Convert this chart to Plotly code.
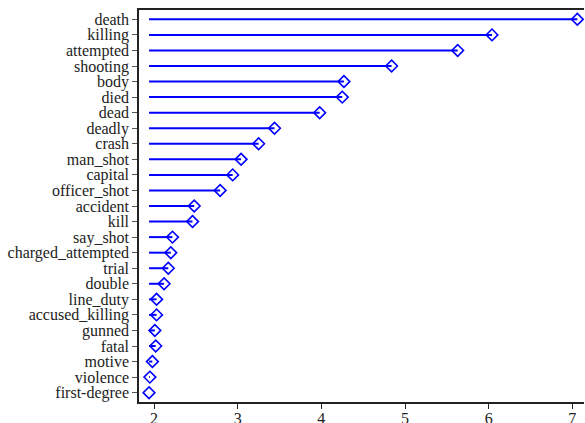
import plotly.graph_objects as go

# terms and their scores (top to bottom)
terms = ["death", "killing", "attempted", "shooting", "body", "died", "dead",
         "deadly", "crash", "man_shot", "capital", "officer_shot", "accident",
         "kill", "say_shot", "charged_attempted", "trial", "double", "line_duty",
         "accused_killing", "gunned", "fatal", "motive", "violence", "first-degree"]
scores = [7.06, 6.04, 5.63, 4.84, 4.27, 4.25, 3.98,
          3.44, 3.25, 3.04, 2.94, 2.79, 2.48,
          2.46, 2.22, 2.20, 2.17, 2.12, 2.03,
          2.03, 2.01, 2.02, 1.98, 1.95, 1.94]
x_ticks = [2, 3, 4, 5, 6, 7]

base = min(scores)
BLUE = "#0000ff"

# stems: one segment per term, from the smallest score to the term's score
sx, sy = [], []
for t, s in zip(terms, scores):
    sx += [base, s, None]
    sy += [t, t, None]

fig = go.Figure()
fig.add_trace(go.Scatter(x=sx, y=sy, mode="lines",
                         line=dict(color=BLUE, width=2), hoverinfo="skip"))
fig.add_trace(go.Scatter(x=scores, y=terms, mode="markers",
                         marker=dict(symbol="diamond-open", size=9, color=BLUE,
                                     line=dict(width=1.6, color=BLUE))))

fig.update_layout(
    width=585, height=423,
    margin=dict(l=139, r=1, t=10, b=21),
    paper_bgcolor="white", plot_bgcolor="white",
    showlegend=False,
    font=dict(family="'Liberation Serif', 'Times New Roman', serif", size=16, color="#222"),
)
fig.update_xaxes(range=[1.82, 7.14], tickvals=x_ticks, showgrid=False,
                 zeroline=False, showline=True, linecolor="#222", linewidth=1.5,
                 mirror=True, ticks="outside", ticklen=5, tickcolor="#222",
                 ticklabelstandoff=-4, automargin=False)
fig.update_yaxes(categoryorder="array", categoryarray=terms,
                 tickmode="array", tickvals=terms,
                 range=[24.6, -0.6], showgrid=False, zeroline=False,
                 showline=True, linecolor="#222", linewidth=1.5,
                 ticks="outside", ticklen=5, tickcolor="#555",
                 automargin=False)

fig.write_html("out.html", config={"displayModeBar": False},
               post_script="document.body.style.margin='0';")
